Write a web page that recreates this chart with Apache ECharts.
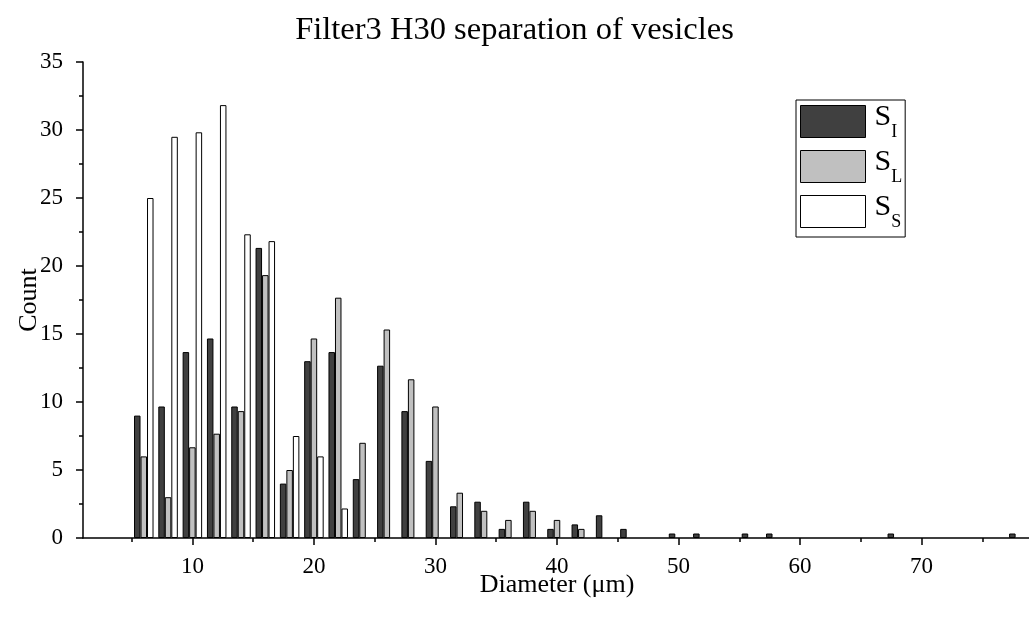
<!DOCTYPE html>
<html>
<head>
<meta charset="utf-8">
<script src="https://cdn.jsdelivr.net/npm/echarts@6/dist/echarts.min.js"></script>
<style>
  html, body { margin: 0; padding: 0; background: #fff; }
  #chart { width: 1029px; height: 630px; }
</style>
</head>
<body>
<div id="chart"></div>
<script>
// Bin centres of the diameter histogram (µm)
const diameters = [6, 8, 10, 12, 14, 16, 18, 20, 22, 24, 26, 28, 30, 32, 34, 36, 38, 40, 42, 44, 46, 48, 50, 52, 54, 56, 58, 60, 62, 64, 66, 68, 70, 72, 74, 76, 78];
// Counts per bin for each fraction (null = empty bin)
const countSI = [9.0, 9.67, 13.67, 14.67, 9.67, 21.33, 4.0, 13.0, 13.67, 4.33, 12.67, 9.33, 5.67, 2.33, 2.67, 0.67, 2.67, 0.67, 1.0, 1.67, 0.67, null, 0.33, 0.33, null, 0.33, 0.33, null, null, null, null, 0.33, null, null, null, null, 0.33];
const countSL = [6.0, 3.0, 6.67, 7.67, 9.33, 19.33, 5.0, 14.67, 17.67, 7.0, 15.33, 11.67, 9.67, 3.33, 2.0, 1.33, 2.0, 1.33, 0.67, null, null, null, null, null, null, null, null, null, null, null, null, null, null, null, null, null, null];
const countSS = [25.0, 29.5, 29.83, 31.83, 22.33, 21.83, 7.5, 6.0, 2.17, null, null, null, null, null, null, null, null, null, null, null, null, null, null, null, null, null, null, null, null, null, null, null, null, null, null, null, null];
const seriesNames = ['S_I', 'S_L', 'S_S'];
const xMajorTicks = [10, 20, 30, 40, 50, 60, 70];
const xMinorTicks = [5, 15, 25, 35, 45, 55, 65, 75];

const FONT = '"Liberation Serif", "Times New Roman", serif';

function pairs(values) {
  return diameters.map((d, i) => [d, values[i]]).filter(p => p[1] !== null);
}

function barSeries(name, values, fill) {
  return {
    name: name,
    type: 'bar',
    xAxisIndex: 0,
    yAxisIndex: 0,
    data: pairs(values),
    barWidth: 6.5,
    barGap: '0%',
    itemStyle: { color: fill, borderColor: '#000', borderWidth: 1 },
    emphasis: { disabled: true },
    animation: false
  };
}

const chart = echarts.init(document.getElementById('chart'), null, { renderer: 'canvas' });
chart.setOption({
  backgroundColor: '#fff',
  animation: false,
  title: {
    text: 'Filter3 H30 separation of vesicles',
    left: 'center',
    top: 9,
    textStyle: { fontFamily: FONT, fontSize: 32.5, fontWeight: 'normal', color: '#000' }
  },
  legend: {
    orient: 'vertical',
    left: 796,
    top: 100,
    padding: [2, 3, 6, 4],
    itemWidth: 65,
    itemHeight: 32,
    itemGap: 6,
    borderColor: '#000',
    borderWidth: 1,
    selectedMode: false,
    icon: 'rect',
    itemStyle: { borderColor: '#000', borderWidth: 1 },
    data: seriesNames,
    formatter: function (name) {
      return '{s|S}{sub|' + name.split('_')[1] + '}';
    },
    textStyle: {
      fontFamily: FONT,
      color: '#000',
      rich: {
        s: { fontFamily: FONT, fontSize: 30, color: '#000', padding: [0, 0, 9, 4], verticalAlign: 'bottom' },
        sub: { fontFamily: FONT, fontSize: 18, color: '#000', verticalAlign: 'bottom' }
      }
    }
  },
  grid: { left: 83, right: -2, top: 62, bottom: 92, containLabel: false, outerBoundsMode: 'none' },
  xAxis: [
    {
      type: 'value',
      min: 1,
      max: 79,
      position: 'bottom',
      name: 'Diameter (\u03bcm)',
      nameLocation: 'middle',
      nameGap: 34,
      nameMoveOverlap: false,
      nameTextStyle: { fontFamily: FONT, fontSize: 26, color: '#000' },
      axisLine: { show: true, onZero: false, lineStyle: { color: '#000', width: 1.5 } },
      axisTick: { show: true, inside: false, length: 7, customValues: xMajorTicks, lineStyle: { color: '#000', width: 1.5 } },
      axisLabel: { show: true, margin: 17, customValues: xMajorTicks, fontFamily: FONT, fontSize: 23, color: '#000' },
      splitLine: { show: false },
      minorTick: { show: false }
    },
    {
      type: 'value',
      min: 1,
      max: 79,
      position: 'bottom',
      axisLine: { show: false },
      axisTick: { show: true, inside: false, length: 4, customValues: xMinorTicks, lineStyle: { color: '#000', width: 1.5 } },
      axisLabel: { show: false },
      splitLine: { show: false }
    }
  ],
  yAxis: {
    type: 'value',
    min: 0,
    max: 35,
    interval: 5,
    name: 'Count',
    nameLocation: 'middle',
    nameGap: 41,
    nameMoveOverlap: false,
    nameRotate: 90,
    nameTextStyle: { fontFamily: FONT, fontSize: 26, color: '#000' },
    axisLine: { show: true, lineStyle: { color: '#000', width: 1.5 } },
    axisTick: { show: true, inside: false, length: 7, lineStyle: { color: '#000', width: 1.5 } },
    minorTick: { show: true, splitNumber: 2, length: 4, lineStyle: { color: '#000', width: 1.5 } },
    axisLabel: { margin: 20, fontFamily: FONT, fontSize: 23, color: '#000' },
    splitLine: { show: false }
  },
  series: [
    barSeries('S_I', countSI, '#404040'),
    barSeries('S_L', countSL, '#c0c0c0'),
    barSeries('S_S', countSS, '#ffffff')
  ]
});
</script>
</body>
</html>
